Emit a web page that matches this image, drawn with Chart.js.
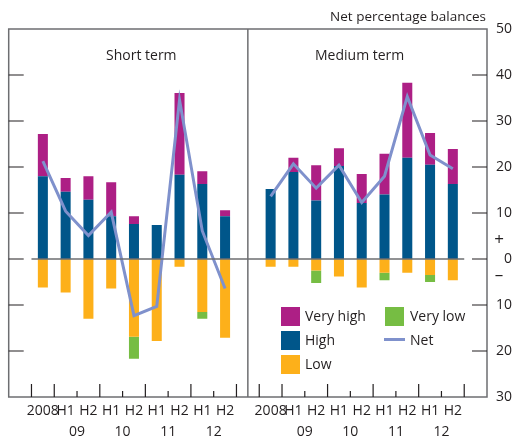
<!DOCTYPE html>
<html>
<head>
<meta charset="utf-8">
<script src="https://cdn.jsdelivr.net/npm/chart.js@4"></script>
<style>
  body { margin: 0; background: #fff; }
  #wrap { position: relative; width: 512px; height: 439px; font-family: "Open Sans", sans-serif; color: #231f20; }
  .txt { position: absolute; white-space: nowrap; font-size: 14px; }
  .sw { position: absolute; width: 19px; height: 19px; }
  .ln { position: absolute; width: 21px; height: 3px; }
</style>
</head>
<body>
<div id="wrap">
  <canvas id="chart" width="512" height="439"></canvas>
  <div class="txt" style="right:26px; top:7px; font-size:13.5px;">Net percentage balances</div>
  <div class="txt" style="left:106px; top:45px;">Short term</div>
  <div class="txt" style="left:315px; top:45px;">Medium term</div>

  <div class="sw" style="left:281px; top:307px; background:#ad1f85;"></div>
  <div class="txt" style="left:305px; top:306px;">Very high</div>
  <div class="sw" style="left:281px; top:331px; background:#00568a;"></div>
  <div class="txt" style="left:305px; top:330px;">High</div>
  <div class="sw" style="left:281px; top:355px; background:#fdb01a;"></div>
  <div class="txt" style="left:305px; top:354px;">Low</div>
  <div class="sw" style="left:385px; top:307px; background:#76bd43;"></div>
  <div class="txt" style="left:410px; top:306px;">Very low</div>
  <div class="ln" style="left:384px; top:338px; background:#7f91cc;"></div>
  <div class="txt" style="left:410px; top:330px;">Net</div>
</div>
<script>
const categories = ['2008', 'H1', 'H2', 'H1', 'H2', 'H1', 'H2', 'H1', 'H2'];
const yearLabels = ['09', '10', '11', '12'];
const yTicks = [50, 40, 30, 20, 10, 0, -10, -20, -30];

// Short term
const shortHigh = [18.0, 14.6, 12.9, 9.3, 7.6, 7.4, 18.3, 16.3, 9.3];
const shortVeryHigh = [9.2, 3.0, 5.1, 7.4, 1.7, 0, 17.8, 2.8, 1.3];
const shortLow = [-6.2, -7.3, -13.0, -6.4, -16.9, -17.8, -1.7, -11.5, -17.1];
const shortVeryLow = [0, 0, 0, 0, -4.8, 0, 0, -1.5, 0];
const shortNet = [21.3, 10.4, 5.1, 10.2, -12.3, -10.3, 34.6, 6.1, -6.4];

// Medium term
const medHigh = [15.2, 18.9, 12.7, 20.2, 12.2, 14.0, 22.0, 20.5, 16.3];
const medVeryHigh = [0, 3.1, 7.7, 3.9, 6.3, 8.9, 16.3, 6.9, 7.6];
const medLow = [-1.7, -1.7, -2.5, -3.8, -6.2, -3.0, -3.0, -3.5, -4.6];
const medVeryLow = [0, 0, -2.7, 0, 0, -1.6, 0, -1.5, 0];
const medNet = [13.6, 20.7, 15.4, 20.4, 12.3, 18.0, 35.3, 22.6, 19.6];

// one category axis: spacer, short panel, spacer (divider), medium panel, spacer
const join = (a, b) => [null, ...a, null, ...b, null];
const labels = ['', ...categories, '', ...categories, ''];

const ink = '#231f20';
const frameCol = '#6d6e71';

const panelPlugin = {
  id: 'panels',
  beforeDatasetsDraw(chart) {
    const { ctx, chartArea: a, scales: { x, y } } = chart;
    const step = x.getPixelForValue(1) - x.getPixelForValue(0);
    ctx.save();
    // frame and divider
    ctx.strokeStyle = frameCol;
    ctx.lineWidth = 1.5;
    ctx.strokeRect(a.left, a.top, a.right - a.left, a.bottom - a.top);
    ctx.beginPath();
    ctx.moveTo(x.getPixelForValue(10), a.top);
    ctx.lineTo(x.getPixelForValue(10), a.bottom);
    ctx.stroke();
    // y ticks inside both edges
    ctx.strokeStyle = ink;
    ctx.lineWidth = 1.2;
    yTicks.forEach(v => {
      if (v === 50 || v === -30) return;
      const py = y.getPixelForValue(v);
      ctx.beginPath();
      ctx.moveTo(a.left, py); ctx.lineTo(a.left + 15, py);
      ctx.moveTo(a.right - 15, py); ctx.lineTo(a.right, py);
      ctx.stroke();
    });
    // x ticks at category boundaries, long at year boundaries
    [1, 11].forEach(start => {
      for (let k = 0; k <= categories.length; k++) {
        const px = x.getPixelForValue(start + k) - step / 2;
        const long = k <= 1 || k % 2 === 1;
        ctx.beginPath();
        ctx.moveTo(px, a.bottom);
        ctx.lineTo(px, a.bottom - (long ? 13 : 6));
        ctx.stroke();
      }
      // year labels centred between H1 and H2
      ctx.fillStyle = ink;
      ctx.font = '14px "Open Sans"';
      ctx.textAlign = 'center';
      ctx.textBaseline = 'middle';
      yearLabels.forEach((t, i) => {
        const px = x.getPixelForValue(start + 2 + 2 * i) - step / 2;
        ctx.fillText(t, px, a.bottom + 35);
      });
    });
    // + and - signs beside zero
    ctx.textAlign = 'center';
    ctx.font = '17px "Open Sans"';
    ctx.fillText('+', 499, y.getPixelForValue(4));
    ctx.fillText('\u2013', 499, y.getPixelForValue(-3.6));
    ctx.restore();
  },
  afterDatasetsDraw(chart) {
    const { ctx, scales: { x, y } } = chart;
    const step = x.getPixelForValue(1) - x.getPixelForValue(0);
    const py = y.getPixelForValue(0);
    ctx.save();
    ctx.strokeStyle = frameCol;
    ctx.lineWidth = 1.5;
    ctx.beginPath();
    ctx.moveTo(x.getPixelForValue(1) - step / 2, py);
    ctx.lineTo(x.getPixelForValue(19) + step / 2, py);
    ctx.stroke();
    ctx.restore();
  }
};

const bar = (data, color) => ({
  type: 'bar', data, backgroundColor: color, stack: 'bars',
  barPercentage: 0.88, categoryPercentage: 0.5, borderWidth: 0
});

new Chart(document.getElementById('chart'), {
  data: {
    labels,
    datasets: [
      { type: 'line', label: 'Net', data: join(shortNet, medNet), borderColor: '#7f91cc',
        borderWidth: 3, pointRadius: 0, stack: 'net', spanGaps: false, order: 0 },
      Object.assign(bar(join(shortHigh, medHigh), '#00568a'), { label: 'High', order: 1 }),
      Object.assign(bar(join(shortVeryHigh, medVeryHigh), '#ad1f85'), { label: 'Very high', order: 1 }),
      Object.assign(bar(join(shortLow, medLow), '#fdb01a'), { label: 'Low', order: 1 }),
      Object.assign(bar(join(shortVeryLow, medVeryLow), '#76bd43'), { label: 'Very low', order: 1 })
    ]
  },
  options: {
    responsive: false,
    animation: false,
    layout: { padding: { top: 29, left: 8.7, right: 0, bottom: 0 } },
    plugins: { legend: { display: false }, tooltip: { enabled: false } },
    scales: {
      x: {
        stacked: true,
        offset: true,
        grid: { display: false, drawTicks: false },
        border: { display: false },
        ticks: { color: ink, font: { family: 'Open Sans', size: 14 }, padding: 6,
                 autoSkip: false, maxRotation: 0 },
        afterFit: s => { s.height = 42; }
      },
      y: {
        position: 'right',
        stacked: true,
        min: -30, max: 50,
        grid: { display: false, drawTicks: false },
        border: { display: false },
        ticks: { stepSize: 10, color: ink, font: { family: 'Open Sans', size: 14 },
                 padding: 7, crossAlign: 'far', callback: v => Math.abs(v) },
        afterFit: s => { s.width = 25; }
      }
    }
  },
  plugins: [panelPlugin]
});
</script>
</body>
</html>
